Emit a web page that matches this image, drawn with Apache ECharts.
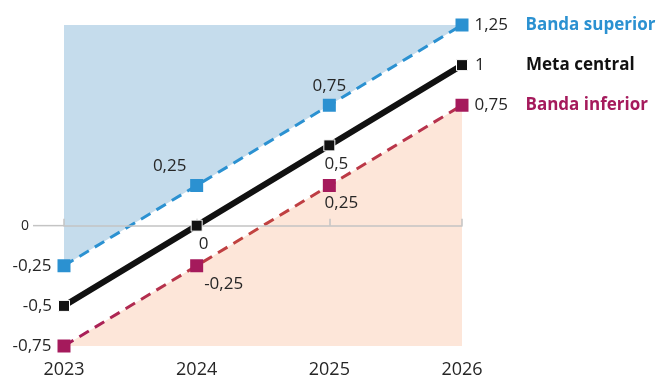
<!DOCTYPE html>
<html><head><meta charset="utf-8">
<script src="https://cdn.jsdelivr.net/npm/echarts@6/dist/echarts.min.js"></script>
<style>html,body{margin:0;padding:0;background:#fff}#c{width:657px;height:383px}</style>
</head><body><div id="c"></div>
<script>
const years = ['2023', '2024', '2025', '2026'];
const upperBand = [-0.25, 0.25, 0.75, 1.25];
const centralTarget = [-0.5, 0, 0.5, 1];
const lowerBand = [-0.75, -0.25, 0.25, 0.75];
const seriesNames = ['Banda superior', 'Meta central', 'Banda inferior'];
const yMin = -0.75, yMax = 1.25, yStep = 0.25;

const FONT = '"Open Sans", "Noto Sans", sans-serif';
const TXT = '#262626';
const BLUE = '#2b91d1', BLACK = '#111111', MAG = '#a51a5c';
const fmt = v => String(v).replace('.', ',');

function makeData(vals, posCfg, name, nameColor) {
  return vals.map((v, i) => {
    const last = i === vals.length - 1;
    const lab = Object.assign({show: true}, posCfg[i]);
    if (last) {
      lab.formatter = '{v|' + fmt(v) + '}{n|' + name + '}';
      lab.rich = {
        v: {fontFamily: FONT, fontSize: 17, color: TXT, width: 51},
        n: {fontFamily: FONT, fontSize: 17, fontWeight: 'bold', color: nameColor}
      };
    } else {
      lab.formatter = fmt(v);
    }
    return {value: v, label: lab};
  });
}

const upperPos = [
  {position: 'left', distance: 6},
  {position: 'top', distance: 4, offset: [-27, 0]},
  {position: 'top', distance: 4},
  {position: 'right', distance: 6}
];
const centralPos = [
  {position: 'left', distance: 6},
  {position: 'bottom', distance: 4, offset: [7, 0]},
  {position: 'bottom', distance: 4, offset: [7, 0]},
  {position: 'right', distance: 7}
];
const lowerPos = [
  {position: 'left', distance: 6},
  {position: 'bottom', distance: 3, offset: [27, 0]},
  {position: 'bottom', distance: 3, offset: [12, 0]},
  {position: 'right', distance: 6}
];

const chart = echarts.init(document.getElementById('c'), null, {renderer: 'canvas'});
const baseLabel = {fontFamily: FONT, fontSize: 17, color: TXT};

chart.setOption({
  animation: false,
  grid: {left: 64, right: 195, top: 25, bottom: 37},
  xAxis: [
    {
      type: 'category', data: years, boundaryGap: false, position: 'bottom',
      axisLine: {show: false, onZero: false}, axisTick: {show: false},
      axisLabel: {fontFamily: FONT, fontSize: 18, color: TXT, margin: 15},
      splitLine: {show: false}
    },
    {
      type: 'category', data: years, boundaryGap: false, position: 'top', z: 3,
      axisLine: {show: true, onZero: true, lineStyle: {color: '#c4c4c4', width: 1.5}},
      axisTick: {show: true, length: 7, lineStyle: {color: '#c4c4c4', width: 1.5}},
      axisLabel: {show: false}, splitLine: {show: false}
    }
  ],
  yAxis: {
    type: 'value', min: yMin, max: yMax, interval: yStep,
    axisLine: {show: false}, axisTick: {show: false}, splitLine: {show: false},
    axisLabel: {fontFamily: FONT, fontSize: 14, color: TXT, margin: 35,
      formatter: v => (Math.abs(v) < 1e-9 ? '0' : '')}
  },
  series: [
    {
      name: seriesNames[0], type: 'line', xAxisIndex: 0,
      data: makeData(upperBand, upperPos, seriesNames[0], BLUE),
      symbol: 'rect', symbolSize: 13, showAllSymbol: true,
      itemStyle: {color: BLUE},
      lineStyle: {color: BLUE, width: 3, type: [11, 7]},
      areaStyle: {origin: 'end', color: '#c5dcec', opacity: 1},
      label: baseLabel, z: 2
    },
    {
      name: seriesNames[2], type: 'line', xAxisIndex: 0,
      data: makeData(lowerBand, lowerPos, seriesNames[2], MAG),
      symbol: 'rect', symbolSize: 13, showAllSymbol: true,
      itemStyle: {color: MAG},
      lineStyle: {
        width: 3, type: [11, 7],
        color: new echarts.graphic.LinearGradient(0, 0, 1, 0, [
          {offset: 0, color: '#a51a5c'},
          {offset: 0.45, color: '#c2443f'},
          {offset: 1, color: '#b52f4f'}
        ])
      },
      areaStyle: {origin: 'start', color: '#fde6d9', opacity: 1},
      label: baseLabel, z: 2
    },
    {
      name: seriesNames[1], type: 'line', xAxisIndex: 0,
      data: makeData(centralTarget, centralPos, seriesNames[1], BLACK),
      symbol: 'rect', symbolSize: 11, showAllSymbol: true,
      itemStyle: {color: BLACK, borderColor: '#fff', borderWidth: 1},
      lineStyle: {color: BLACK, width: 6},
      label: baseLabel, z: 4
    }
  ]
});

// extend the zero line slightly to the left of the plot, as in the reference
const p0 = chart.convertToPixel({gridIndex: 0}, [0, 0]);
chart.setOption({
  graphic: [{
    type: 'line', z: 1,
    shape: {x1: p0[0] - 31, y1: p0[1], x2: p0[0], y2: p0[1]},
    style: {stroke: '#c4c4c4', lineWidth: 1.5}
  }]
});
</script></body></html>
